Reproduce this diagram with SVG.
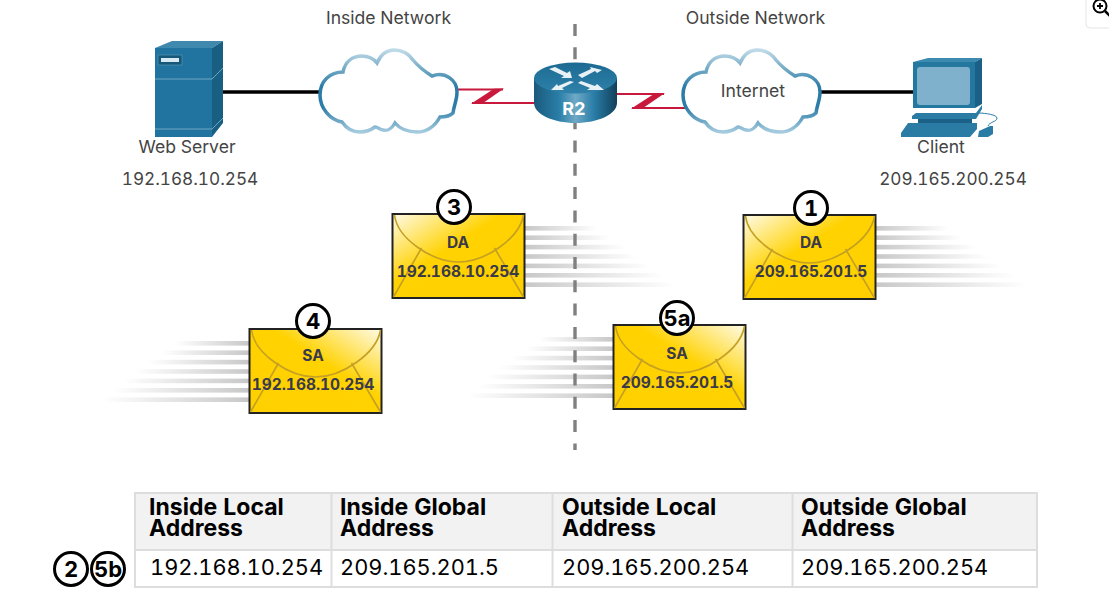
<svg xmlns="http://www.w3.org/2000/svg" xmlns:xlink="http://www.w3.org/1999/xlink" width="1109" height="612" viewBox="0 0 1109 612">
<style>
text{font-family:"Inter","Liberation Sans",sans-serif;font-variant-numeric:tabular-nums}
.lbl{font-size:17.6px;fill:#444;text-anchor:middle}
.ip{font-size:17.2px;fill:#444;text-anchor:middle}
.th{font-size:23px;font-weight:700;fill:#000}
.td{font-size:21.8px;fill:#000}
.cell{stroke:#ddd;stroke-width:2}
.enl{font-size:15.5px;font-weight:700;fill:#3a3a4a;text-anchor:middle}
.num{font-size:22px;font-weight:700;fill:#000;text-anchor:middle}
.badge{fill:#fff;stroke:#000;stroke-width:3}
.fold{fill:none;stroke:#c4a024;stroke-width:1.6}
.frame{stroke:#222;stroke-width:2}
.link{stroke:#000;stroke-width:3.5;fill:none}
.wan{stroke:#c8193c;stroke-width:2;fill:none}
.zig{fill:#c8193c}
.cloud{fill:#fff;stroke:url(#cloudStroke);stroke-width:3.5}
</style>
<defs>
<linearGradient id="cloudStroke" x1="0" y1="0" x2="0" y2="1">
<stop offset="0" stop-color="#c0dbe8"/><stop offset=".45" stop-color="#2b7ca6"/><stop offset=".7" stop-color="#2b7ca6"/><stop offset="1" stop-color="#a5cbdf"/>
</linearGradient>
<linearGradient id="envL" x1="0" y1="0" x2="1" y2="1">
<stop offset="0" stop-color="#fffbe8"/><stop offset=".42" stop-color="#ffd200"/><stop offset="1" stop-color="#ffd000"/>
</linearGradient>
<linearGradient id="envR" x1="1" y1="0" x2="0" y2="1">
<stop offset="0" stop-color="#fffbe8"/><stop offset=".42" stop-color="#ffd200"/><stop offset="1" stop-color="#ffd000"/>
</linearGradient>
<linearGradient id="fadeR"><stop offset="0" stop-color="#c8c8c8"/><stop offset="1" stop-color="#fff"/></linearGradient>
<linearGradient id="fadeL"><stop offset="0" stop-color="#fff"/><stop offset="1" stop-color="#c8c8c8"/></linearGradient>
<linearGradient id="rBody"><stop offset="0" stop-color="#1a5a7c"/><stop offset=".3" stop-color="#2a7ea8"/><stop offset=".5" stop-color="#6fa9c6"/><stop offset=".72" stop-color="#2a7ea8"/><stop offset="1" stop-color="#123f5a"/></linearGradient>
<linearGradient id="rTop" x1="0" y1="0" x2="0" y2="1"><stop offset="0" stop-color="#1c6a92"/><stop offset="1" stop-color="#2f82ab"/></linearGradient>
<path id="cloudShape" d="M320 95C320 81 330 72 343 72C345 62 352 56 362 56C368 56 373 58 377 63C381 54 387 50 394 50C403 50 409 54 413 60C418 66 424 71 432 76C445 71 457 80 457 92C457 100 454 105 453 113C450 116 445 117 440 117C435 126 427 132 417 132C408 132 400 129 395 123C391 130 386 131 383 130C380 130 378 127 375 127C371 130 366 132 360 132C352 132 346 128 342 122C330 120 320 108 320 95Z"/>
<g id="envL-art"><rect width="132" height="84" fill="url(#envL)" class="frame"/><path class="fold" d="M2 1C5 25 40 48 66 48C92 48 127 25 131 1M29 34L1 83M102 34L131 83"/></g>
<g id="envR-art"><rect width="132" height="84" fill="url(#envR)" class="frame"/><path class="fold" d="M2 1C5 25 40 48 66 48C92 48 127 25 131 1M29 34L1 83M102 34L131 83"/></g>
<g id="trailR">
<rect x="0" y="0" width="72" height="4.6" fill="url(#fadeR)"/><rect x="0" y="9.4" width="85" height="4.6" fill="url(#fadeR)"/><rect x="0" y="18.8" width="100" height="4.6" fill="url(#fadeR)"/><rect x="0" y="28.2" width="112" height="4.6" fill="url(#fadeR)"/><rect x="0" y="37.6" width="125" height="4.6" fill="url(#fadeR)"/><rect x="0" y="47" width="138" height="4.6" fill="url(#fadeR)"/><rect x="0" y="56.4" width="150" height="4.6" fill="url(#fadeR)"/>
</g>
<g id="trailL">
<rect x="-74" y="0" width="74" height="4.6" fill="url(#fadeL)"/><rect x="-87" y="9.4" width="87" height="4.6" fill="url(#fadeL)"/><rect x="-101" y="18.8" width="101" height="4.6" fill="url(#fadeL)"/><rect x="-114" y="28.2" width="114" height="4.6" fill="url(#fadeL)"/><rect x="-126" y="37.6" width="126" height="4.6" fill="url(#fadeL)"/><rect x="-136" y="47" width="136" height="4.6" fill="url(#fadeL)"/><rect x="-146" y="56.4" width="146" height="4.6" fill="url(#fadeL)"/>
</g>
</defs>

<g id="trails">
<use xlink:href="#trailR" href="#trailR" x="525" y="226"/>
<use xlink:href="#trailR" href="#trailR" x="876" y="226"/>
<use xlink:href="#trailL" href="#trailL" x="249" y="341"/>
<use xlink:href="#trailL" href="#trailL" x="613" y="337"/>
</g>

<line id="boundary" x1="575" y1="24" x2="575" y2="450" stroke="#808080" stroke-width="3.4" stroke-dasharray="12 11.3"/>

<g id="connectors">
<line class="link" x1="223" y1="92" x2="322" y2="92"/>
<line class="link" x1="818" y1="92" x2="914" y2="92"/>
<path class="wan" d="M456 89.500H503M472 103H535"/>
<polygon class="zig" points="504,88.600 494,88.800 471,103.800 482,103.800"/>
<path class="wan" d="M617 94H664M632 108H685"/>
<polygon class="zig" points="665,93.100 655,93.300 631,108.800 642,108.800"/>
</g>

<g id="web-server">
<polygon points="155,48 172,41 223,41 212,48" fill="#3f89ae"/>
<rect x="155" y="48" width="57" height="89" fill="#20749f"/>
<polygon points="212,48 223,41 223,123 212,137" fill="#195f84"/>
<path d="M155 79H212L223 68M155 129H212L223 118" fill="none" stroke="#6ea7c4" stroke-width="1"/>
<rect x="158" y="55" width="24" height="10" fill="#17577a" stroke="#5f9dbb" stroke-width=".6"/>
<rect x="161" y="58" width="18" height="4" fill="#d8e9f1"/>
<text class="lbl" x="187" y="152.500">Web Server</text>
<text class="ip" x="190" y="184.500">192.168.10.254</text>
</g>

<g id="inside-network">
<use xlink:href="#cloudShape" href="#cloudShape" class="cloud"/>
<text class="lbl" x="388.500" y="23.500">Inside Network</text>
</g>

<g id="outside-network">
<use xlink:href="#cloudShape" href="#cloudShape" class="cloud" transform="translate(363 0)"/>
<text class="lbl" x="755.500" y="23.500">Outside Network</text>
<text class="lbl" x="753" y="96.500">Internet</text>
</g>

<g id="router-r2">
<path d="M534 78V103C534 114 553 123 575.500 123C598 123 617 114 617 103V78Z" fill="url(#rBody)"/>
<ellipse cx="575.500" cy="78" rx="41.500" ry="15.500" fill="url(#rTop)"/>
<path d="M549 69L555 67L567 73L570 71L572 78L561 78L564 76ZM602 70L590 67L591 69L578 75L582 78L595 71L597 73ZM551 90L564 90L562 88L574 82L570 81L558 86L557 84ZM604 90L597 84L595 86L581 81L578 83L590 88L587 90Z" fill="#e8f1f6"/>
<text x="574" y="115" font-size="18" font-weight="700" fill="#fff" text-anchor="middle">R2</text>
</g>

<g id="client">
<polygon points="913,62 928,58 982,58 975,62" fill="#3c8ab0"/>
<rect x="913" y="62" width="62" height="46" fill="#24779f"/>
<polygon points="975,62 982,58 982,104 975,108" fill="#1b6187"/>
<rect x="917" y="67" width="53" height="38" rx="3" fill="#7fb0cc"/>
<polygon points="916,113 976,113 982,105 982,109 976,119 912,119 912,116" fill="#2a7ca4"/>
<rect x="918" y="119" width="54" height="5" fill="#1b6187"/>
<polygon points="908,123 977,123 977,129 970,137 901,137 901,133" fill="#2a7ca4"/>
<polygon points="979,131 990,126 993,126 993,134 988,137 978,137" fill="#2a7ca4"/>
<path d="M978 113C986 113 997 115 997 118C997 122 989 122 988 126" fill="none" stroke="#2a7ca4" stroke-width="1"/>
<text class="lbl" x="941" y="152.500">Client</text>
<text class="ip" x="953" y="184.500">209.165.200.254</text>
</g>

<g id="envelope-3">
<use xlink:href="#envL-art" href="#envL-art" x="392.500" y="214"/>
<text class="enl" x="458" y="248">DA</text>
<text class="enl" x="458" y="277">192.168.10.254</text>
<circle class="badge" cx="454" cy="207" r="16.500"/>
<text class="num" x="454" y="215">3</text>
</g>
<g id="envelope-1">
<use xlink:href="#envL-art" href="#envL-art" x="743.500" y="215"/>
<text class="enl" x="811" y="248">DA</text>
<text class="enl" x="811" y="277">209.165.201.5</text>
<circle class="badge" cx="811" cy="208" r="16.500"/>
<text class="num" x="811" y="216">1</text>
</g>
<g id="envelope-4">
<use xlink:href="#envR-art" href="#envR-art" x="249.500" y="329"/>
<text class="enl" x="313" y="361">SA</text>
<text class="enl" x="313" y="390">192.168.10.254</text>
<circle class="badge" cx="313" cy="321" r="16.500"/>
<text class="num" x="313" y="329">4</text>
</g>
<g id="envelope-5a">
<use xlink:href="#envR-art" href="#envR-art" x="613.500" y="325"/>
<text class="enl" x="677" y="359">SA</text>
<text class="enl" x="677" y="388">209.165.201.5</text>
<circle class="badge" cx="677" cy="318" r="16.500"/>
<text class="num" x="677" y="326">5a</text>
</g>

<g id="nat-table">
<rect x="135" y="493" width="902" height="57" fill="#f2f2f2"/>
<rect x="135" y="550" width="902" height="37" fill="#fff"/>
<path class="cell" fill="none" d="M135 493H1037V587H135ZM135 550H1037M331.500 493V587M552.500 493V587M792.500 493V587"/>
<text class="th" x="149" y="515">Inside Local</text><text class="th" x="149" y="536">Address</text>
<text class="th" x="340" y="515">Inside Global</text><text class="th" x="340" y="536">Address</text>
<text class="th" x="562" y="515">Outside Local</text><text class="th" x="562" y="536">Address</text>
<text class="th" x="801" y="515">Outside Global</text><text class="th" x="801" y="536">Address</text>
<text class="td" x="150" y="575">192.168.10.254</text>
<text class="td" x="340" y="575">209.165.201.5</text>
<text class="td" x="562" y="575">209.165.200.254</text>
<text class="td" x="801" y="575">209.165.200.254</text>
</g>
<g id="step-2"><circle class="badge" cx="71" cy="569" r="16.500"/><text class="num" x="71" y="577">2</text></g>
<g id="step-5b"><circle class="badge" cx="108" cy="569" r="16.500"/><text class="num" x="108" y="577">5b</text></g>

<g id="zoom-button">
<path d="M1086 -2V24Q1086 28 1090 28H1111" fill="#fff" stroke="#e4e4e4" stroke-width="1"/>
<circle cx="1100" cy="6" r="6.500" fill="none" stroke="#000" stroke-width="2"/>
<path d="M1097 6H1103M1100 3V9" stroke="#000" stroke-width="1.800"/>
<path d="M1105 11L1110 16" stroke="#000" stroke-width="2.500"/>
</g>
</svg>
